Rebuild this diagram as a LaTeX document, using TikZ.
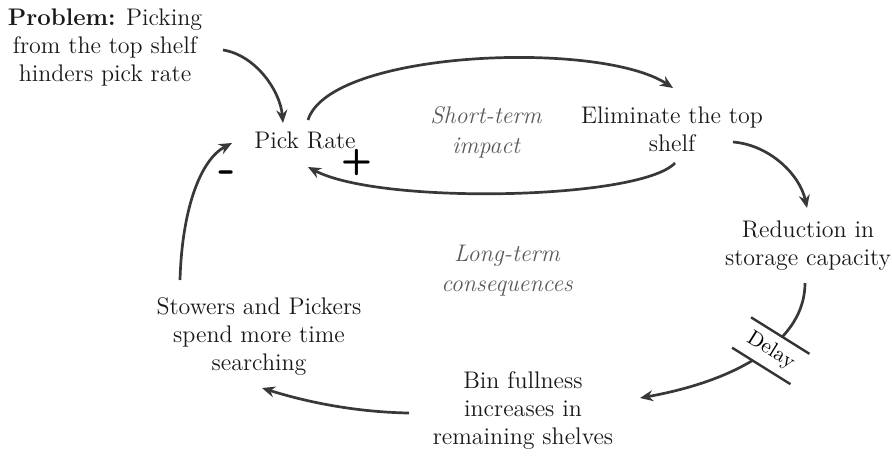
\documentclass[tikz,border=0pt]{standalone}
\usetikzlibrary{arrows.meta}
\begin{document}
\begin{tikzpicture}[x=0.5pt,y=-0.5pt,
  txt/.style={align=center, inner sep=0pt, font=\fontsize{12}{14}\selectfont, text=black!90},
  note/.style={align=center, inner sep=0pt, font=\fontsize{12}{15}\selectfont\itshape, text=black!65},
  conn/.style={draw=black!78, line width=1.35pt, -{Stealth[length=6.5pt,width=5.5pt]}},
  signtxt/.style={inner sep=0pt, text=black},
  delaybox/.style={rotate=-32, minimum width=34pt, minimum height=17.5pt, inner sep=0pt, fill=white, font=\fontsize{10.5}{12}\selectfont},
  bar/.style={draw=black!80, line width=1.2pt}]
\path[use as bounding box] (0,0) rectangle (892,455);

% nodes
\node[txt] (prob) at (105,47) {\textbf{Problem:} Picking\\from the top shelf\\hinders pick rate};
\node[txt] (pick) at (305,140) {Pick Rate};
\node[txt] (elim) at (672,129) {Eliminate the top\\shelf};
\node[txt] (red) at (808,246) {Reduction in\\storage capacity};
\node[txt] (bin) at (523,411) {Bin fullness\\increases in\\remaining shelves};
\node[txt] (stow) at (259,337) {Stowers and Pickers\\spend more time\\searching};
\node[note] (short) at (486,132) {Short-term\\impact};
\node[note] (long) at (507,271) {Long-term\\consequences};
\node[signtxt, font=\sffamily\bfseries\fontsize{18}{18}\selectfont] (plus) at (357,162) {+};
\node[signtxt, font=\sffamily\bfseries\fontsize{24}{24}\selectfont] (minus) at (227,177) {-};

% connectors
\draw[conn] ([shift={(118,3)}]prob.center) .. controls (255,55) and (280,90) .. ([shift={(-22,-17)}]pick.center);
\draw[conn] ([shift={(3,-20)}]pick.center) .. controls (330,50) and (600,40) .. ([shift={(1,-41)}]elim.center);
\draw[conn] ([shift={(3,34)}]elim.center) .. controls (640,200) and (380,205) .. ([shift={(3,27)}]pick.center);
\draw[conn] ([shift={(61,13)}]elim.center) .. controls (770,145) and (800,175) .. ([shift={(-1,-38)}]red.center);
\draw[conn] ([shift={(-3,37)}]red.center) .. controls (805,340) and (740,380) .. ([shift={(117,-13)}]bin.center);
\draw[conn] ([shift={(-114,2)}]bin.center) .. controls (350,412) and (300,400) .. ([shift={(3,51)}]stow.center);
\draw[conn] ([shift={(-79,-57)}]stow.center) .. controls (182,210) and (200,160) .. ([shift={(-73,3)}]pick.center);

% delay mark
\node[delaybox] (delay) at (770.75,350.75) {Delay};
\draw[bar] (delay.north west) -- (delay.north east);
\draw[bar] (delay.south west) -- (delay.south east);
\end{tikzpicture}
\end{document}
